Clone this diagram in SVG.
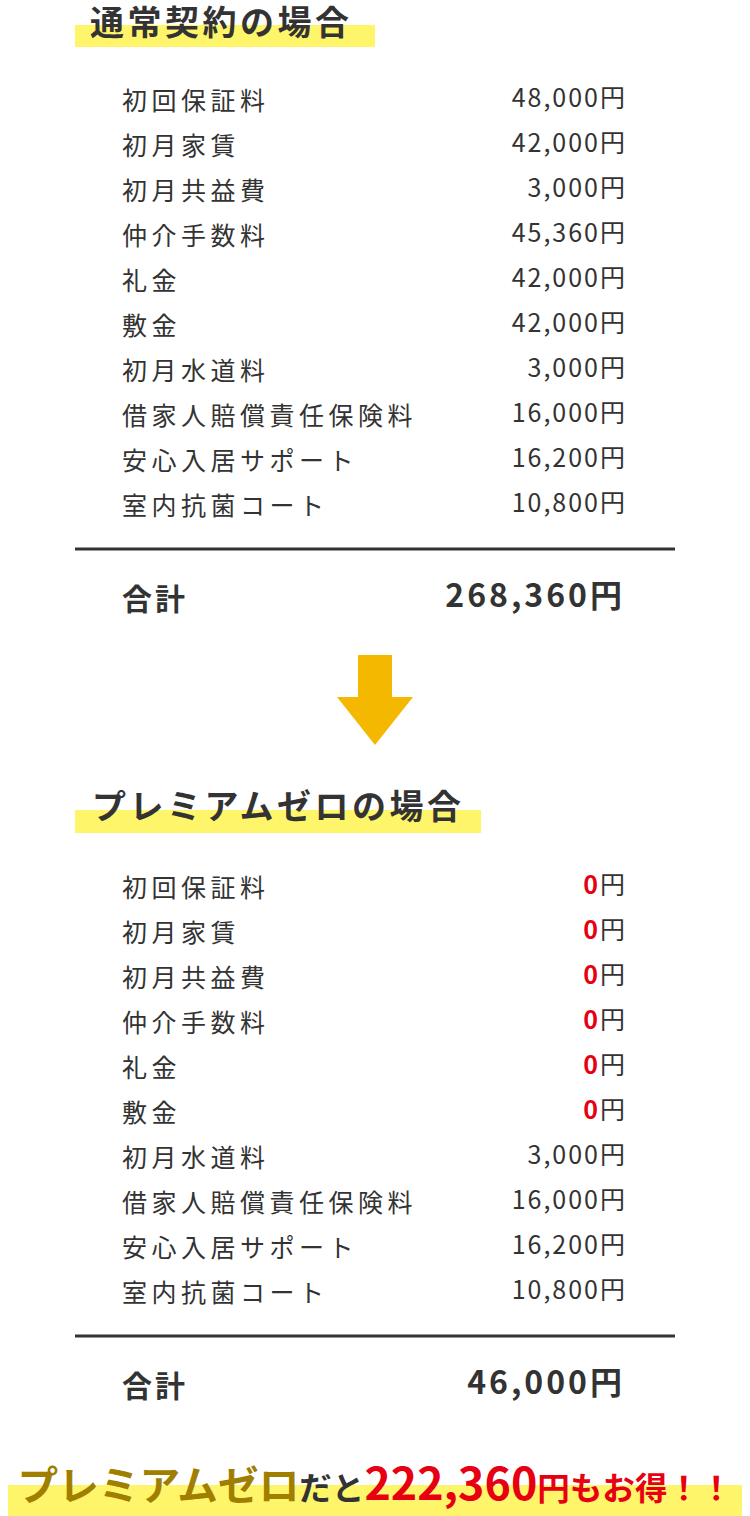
<svg xmlns="http://www.w3.org/2000/svg" width="750" height="1516" viewBox="0 0 750 1516">
<style>
text{font-family:"Noto Sans CJK JP","Noto Sans",sans-serif;fill:#333}
.l{font-size:25px;letter-spacing:4.5px}
.v{font-size:25px;text-anchor:end;letter-spacing:2px}
.h{font-size:34px;font-weight:bold;letter-spacing:3.5px}
.t{font-size:32px;font-weight:bold;letter-spacing:3px;text-anchor:end}
.tl{font-size:30px;font-weight:bold;letter-spacing:3px}
.r{fill:#e60012;font-weight:bold}
.hl{fill:#fff56a}
</style>
<rect width="750" height="1516" fill="#fff"/>
<g id="sec1">
<rect class="hl" x="75" y="25" width="300" height="22"/>
<text class="h" x="90" y="35">通常契約の場合</text>
<text class="l" x="122" y="110">初回保証料</text>
<text class="l" x="122" y="155">初月家賃</text>
<text class="l" x="122" y="200">初月共益費</text>
<text class="l" x="122" y="245">仲介手数料</text>
<text class="l" x="122" y="290">礼金</text>
<text class="l" x="122" y="335">敷金</text>
<text class="l" x="122" y="380">初月水道料</text>
<text class="l" x="122" y="425">借家人賠償責任保険料</text>
<text class="l" x="122" y="470">安心入居サポート</text>
<text class="l" x="122" y="515">室内抗菌コート</text>
<text class="v" x="627" y="107">48,000円</text>
<text class="v" x="627" y="152">42,000円</text>
<text class="v" x="627" y="197">3,000円</text>
<text class="v" x="627" y="242">45,360円</text>
<text class="v" x="627" y="287">42,000円</text>
<text class="v" x="627" y="332">42,000円</text>
<text class="v" x="627" y="377">3,000円</text>
<text class="v" x="627" y="422">16,000円</text>
<text class="v" x="627" y="467">16,200円</text>
<text class="v" x="627" y="512">10,800円</text>
<line x1="75" y1="549" x2="675" y2="549" stroke="#333" stroke-width="3"/>
<text class="tl" x="122" y="610">合計</text>
<text class="t" x="625" y="607">268,360円</text>
</g>
<g id="arrow" fill="#f5b800">
<rect x="358" y="655" width="34" height="43"/>
<polygon points="337,697 413,697 375,745"/>
</g>
<g id="sec2">
<rect class="hl" x="75" y="810" width="406" height="23"/>
<text class="h" x="92" y="819">プレミアムゼロの場合</text>
<text class="l" x="122" y="897">初回保証料</text>
<text class="l" x="122" y="942">初月家賃</text>
<text class="l" x="122" y="987">初月共益費</text>
<text class="l" x="122" y="1032">仲介手数料</text>
<text class="l" x="122" y="1077">礼金</text>
<text class="l" x="122" y="1122">敷金</text>
<text class="l" x="122" y="1167">初月水道料</text>
<text class="l" x="122" y="1212">借家人賠償責任保険料</text>
<text class="l" x="122" y="1257">安心入居サポート</text>
<text class="l" x="122" y="1302">室内抗菌コート</text>
<text class="v" x="627" y="894"><tspan class="r">0</tspan>円</text>
<text class="v" x="627" y="939"><tspan class="r">0</tspan>円</text>
<text class="v" x="627" y="984"><tspan class="r">0</tspan>円</text>
<text class="v" x="627" y="1029"><tspan class="r">0</tspan>円</text>
<text class="v" x="627" y="1074"><tspan class="r">0</tspan>円</text>
<text class="v" x="627" y="1119"><tspan class="r">0</tspan>円</text>
<text class="v" x="627" y="1164">3,000円</text>
<text class="v" x="627" y="1209">16,000円</text>
<text class="v" x="627" y="1254">16,200円</text>
<text class="v" x="627" y="1299">10,800円</text>
<line x1="75" y1="1336" x2="675" y2="1336" stroke="#333" stroke-width="3"/>
<text class="tl" x="122" y="1397">合計</text>
<text class="t" x="625" y="1394">46,000円</text>
</g>
<g id="banner">
<rect class="hl" x="8" y="1485" width="734" height="31"/>
<text x="375" y="1500" text-anchor="middle" font-weight="bold" textLength="715" lengthAdjust="spacingAndGlyphs"><tspan font-size="40" fill="#a07f00">プレミアムゼロ</tspan><tspan font-size="32" fill="#333">だと</tspan><tspan font-size="44" fill="#e60012">222,360</tspan><tspan font-size="32" fill="#e60012">円もお得！！</tspan></text>
</g>
</svg>
